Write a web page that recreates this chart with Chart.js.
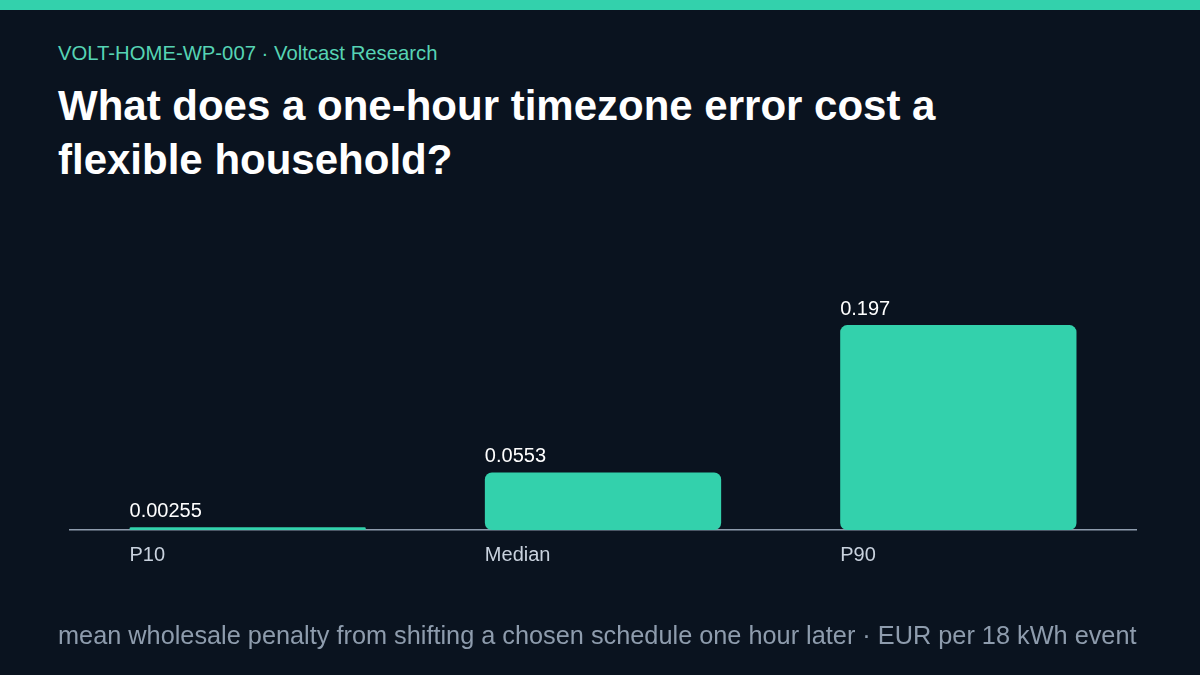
<!DOCTYPE html>
<html><head><meta charset="utf-8">
<script src="https://cdn.jsdelivr.net/npm/chart.js@4"></script>
<style>
html,body{margin:0;padding:0;background:#0a131f;}
body{width:1200px;height:675px;position:relative;overflow:hidden;font-family:"Liberation Sans",Arial,sans-serif;}
#topbar{position:absolute;left:0;top:0;width:1200px;height:10px;background:#33d1ac;}
#kicker{position:absolute;left:58px;top:43px;font-size:20.3px;line-height:20px;color:#56d3b4;white-space:nowrap;}
#title{position:absolute;left:58px;top:79px;width:1100px;font-size:42px;line-height:54px;font-weight:bold;color:#ffffff;}
#foot{position:absolute;left:58px;top:623px;font-size:25.3px;line-height:25px;color:#8e9cad;white-space:nowrap;}
#wrap{position:absolute;left:0;top:0;width:1200px;height:675px;}
</style></head>
<body>
<div id="topbar"></div>
<div id="kicker">VOLT-HOME-WP-007 · Voltcast Research</div>
<div id="title">What does a one-hour timezone error cost a<br>flexible household?</div>
<div id="wrap"><canvas id="c"></canvas></div>
<div id="foot">mean wholesale penalty from shifting a chosen schedule one hour later · EUR per 18 kWh event</div>
<script>
const categories = ["P10", "Median", "P90"];
const values = [0.00255, 0.0553, 0.197];
const valueLabels = ["0.00255", "0.0553", "0.197"];

const labelPlugin = {
  id: 'labels',
  afterDatasetsDraw(chart) {
    const ctx = chart.ctx;
    const meta = chart.getDatasetMeta(0);
    ctx.save();
    meta.data.forEach((bar, i) => {
      const left = bar.x - bar.width / 2;
      ctx.font = '20px "Liberation Sans", Arial, sans-serif';
      ctx.textAlign = 'left';
      ctx.textBaseline = 'alphabetic';
      ctx.fillStyle = '#ffffff';
      ctx.fillText(valueLabels[i], left, bar.y - 10);
      ctx.fillStyle = '#c9d2de';
      ctx.fillText(categories[i], left, chart.chartArea.bottom + 31);
    });
    ctx.restore();
  }
};

new Chart(document.getElementById('c'), {
  type: 'bar',
  data: {
    labels: categories,
    datasets: [{
      data: values,
      backgroundColor: '#33d1ac',
      borderRadius: 7,
      borderSkipped: false,
      categoryPercentage: 0.7,
      barPercentage: 0.95
    }]
  },
  options: {
    responsive: true,
    maintainAspectRatio: false,
    animation: false,
    layout: { padding: { left: 70, right: 64, top: 218, bottom: 145 } },
    plugins: { legend: { display: false }, tooltip: { enabled: false } },
    scales: {
      x: {
        display: true,
        grid: { display: false, drawTicks: false },
        border: { display: true, color: '#8e9cad', width: 1.5 },
        ticks: { display: false }
      },
      y: { display: false, min: 0, max: 0.3 }
    }
  },
  plugins: [labelPlugin]
});
</script>
</body></html>
